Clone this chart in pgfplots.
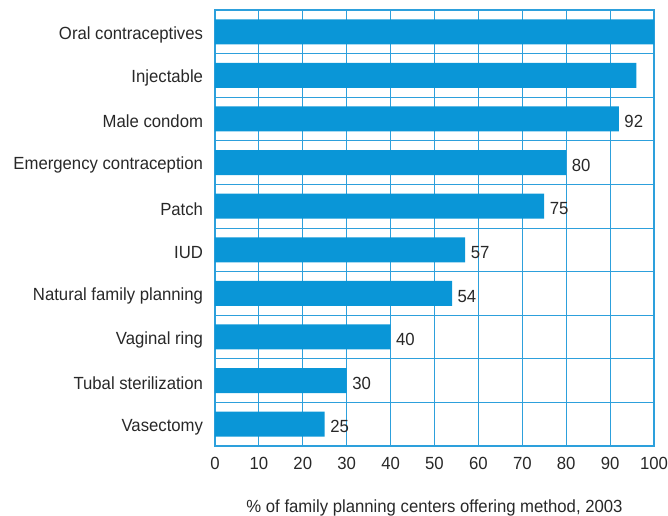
\documentclass[border=0pt]{standalone}
\usepackage{pgfplots}
\pgfplotsset{compat=1.18}
\usepackage{fontspec}
\setmainfont{Liberation Sans}[FakeStretch=0.95]
\definecolor{barblue}{RGB}{10,150,215}
\definecolor{gridblue}{RGB}{45,160,220}
\definecolor{txt}{RGB}{40,40,40}
\begin{document}
\begin{tikzpicture}
\useasboundingbox (-161.25pt,-52.5pt) rectangle (339.75pt,334.5pt);
\begin{axis}[
  at={(0,0)}, anchor=south west,
  scale only axis, width=329.25pt, height=327pt,
  xmin=0, xmax=100, ymin=-0.5, ymax=9.5,
  xtick={0,10,...,100},
  ytick={0,...,9},
  yticklabels={Vasectomy,Tubal sterilization,Vaginal ring,Natural family planning,IUD,Patch,Emergency contraception,Male condom,Injectable,Oral contraceptives},
  minor ytick={0.5,1.5,...,8.5},
  xmajorgrids, yminorgrids,
  major grid style={gridblue, line width=0.7pt},
  minor grid style={gridblue, line width=0.7pt},
  axis line style={gridblue, line width=0.8pt},
  tick style={draw=none},
  minor tick style={draw=none},
  font=\fontsize{13.2}{15}\selectfont\color{txt},
  /pgf/number format/assume math mode=true,
  yticklabel style={inner sep=0pt, xshift=-4.5pt, yshift=-2pt},
  xticklabel style={inner sep=0pt, yshift=-8pt},
  xlabel={\% of family planning centers offering method, 2003},
  every axis x label/.style={at={(axis description cs:0.5,0)}, anchor=north, yshift=-37pt},
  xbar, bar width=18.75pt, bar shift=0pt,
]
\addplot[draw=none, fill=barblue] coordinates {(100,9) (96,8)};
\addplot[draw=none, fill=barblue,
  nodes near coords,
  nodes near coords style={font=\fontsize{13.2}{15}\selectfont\color{txt}, inner sep=0pt, xshift=4pt, yshift=-2pt},
  ] coordinates {(92,7) (80,6) (75,5) (57,4) (54,3) (40,2) (30,1) (25,0)};
\end{axis}
\end{tikzpicture}
\end{document}
